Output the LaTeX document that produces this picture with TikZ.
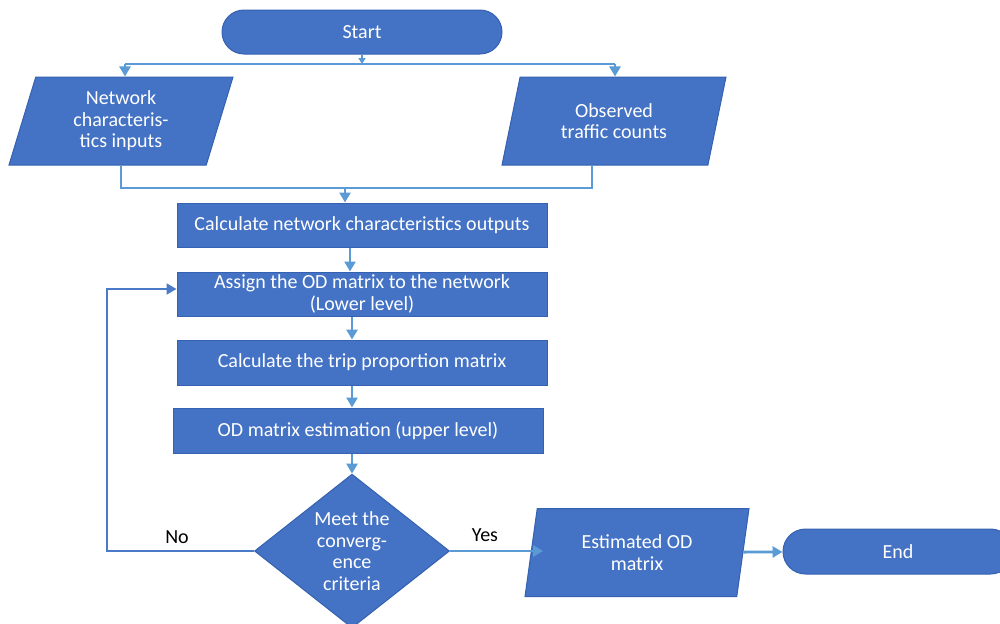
\documentclass[tikz,border=0pt]{standalone}
\usepackage{fontspec}
\setmainfont{Carlito}
\usetikzlibrary{shapes.geometric,shapes.misc,arrows.meta}
\definecolor{boxblue}{HTML}{4472C4}
\definecolor{edgeblue}{HTML}{3561B0}
\definecolor{arrblue}{HTML}{5B9BD5}
\definecolor{loopblue}{HTML}{4A7BC8}

\begin{document}
\begin{tikzpicture}[x=0.5pt,y=-0.5pt,
  every node/.style={font=\fontsize{10}{10.75}\selectfont, text=white, align=center, inner sep=0pt},
  term/.style={rounded rectangle, fill=boxblue, draw=edgeblue, line width=0.5pt},
  proc/.style={rectangle, fill=boxblue, draw=edgeblue, line width=0.5pt, minimum width=185pt},
  io/.style={trapezium, trapezium stretches body=true, fill=boxblue, draw=edgeblue, line width=0.5pt, minimum width=112pt, minimum height=44pt},
  line/.style={draw=arrblue, line width=1.4pt},
  arr/.style={line, -{Triangle[length=5pt,width=5.5pt]}}]
\useasboundingbox (0,0) rectangle (1000,623);
% terminals
\node[term, minimum width=140pt, minimum height=22pt] (start) at (362,32) {Start};
\node[term, minimum width=115pt, minimum height=22.5pt] (end) at (898,551.5) {End};
% inputs / outputs
\node[io, trapezium left angle=66, trapezium right angle=114] (netin) at (121,121) {Network\\characteris-\\tics inputs};
\node[io, trapezium left angle=63, trapezium right angle=117] (counts) at (614,121) {Observed\\traffic counts};
\node[io, trapezium left angle=71, trapezium right angle=109] (estod) at (637,552.5) {Estimated OD\\matrix};
% process boxes
\node[proc, minimum height=22pt] (netout) at (362,225) {Calculate network characteristics outputs};
\node[proc, minimum height=22pt] (assign) at (362,294) {Assign the OD matrix to the network\\(Lower level)};
\node[proc, minimum height=22.5pt] (trip) at (362,362.5) {Calculate the trip proportion matrix};
\node[proc, minimum height=22.5pt] (odest) at (358,430.5) {OD matrix estimation (upper level)};
% decision
\node[diamond, fill=boxblue, draw=edgeblue, line width=0.5pt, minimum width=97.5pt, minimum height=73pt] (conv) at (352,551) {Meet the\\converg-\\ence\\criteria};
\node[text=black] (nolab) at (177,537) {No};
\node[text=black] (yeslab) at (485,535) {Yes};
% helper points
\coordinate (fork) at (362,64);
\coordinate (forkL) at (125,64);
\coordinate (forkR) at (615,64);
\coordinate (mergeL) at (121,188);
\coordinate (mergeR) at (592,188);
\coordinate (mergeC) at (345,188);
\coordinate (axis) at (350,0);
\coordinate (loop) at (107,289);
\coordinate (yesend) at (543,551);
% connectors
\draw[arr, -{Triangle[length=3pt,width=3.5pt]}] (start) -- (fork);
\draw[line] (forkL) -- (forkR);
\draw[arr] (forkL) -- (netin.north -| forkL);
\draw[arr] (forkR) -- (counts.north -| forkR);
\draw[line] (netin.south -| mergeL) -- (mergeL) -- (mergeR) -- (counts.south -| mergeR);
\draw[arr] (mergeC) -- (netout.north -| mergeC);
\draw[arr] (netout.south -| axis) -- (assign.north -| axis);
\draw[arr] (assign.south -| conv) -- (trip.north -| conv);
\draw[arr] (trip.south -| conv) -- (odest.north -| conv);
\draw[arr] (odest.south -| conv) -- (conv.north);
\draw[arr, draw=loopblue, line width=1pt] (conv.west) -| (loop) -- (loop -| assign.west);
\draw[arr] (conv.east) -- (yesend);
\draw[arr] (estod) -- (end);
\end{tikzpicture}
\end{document}
